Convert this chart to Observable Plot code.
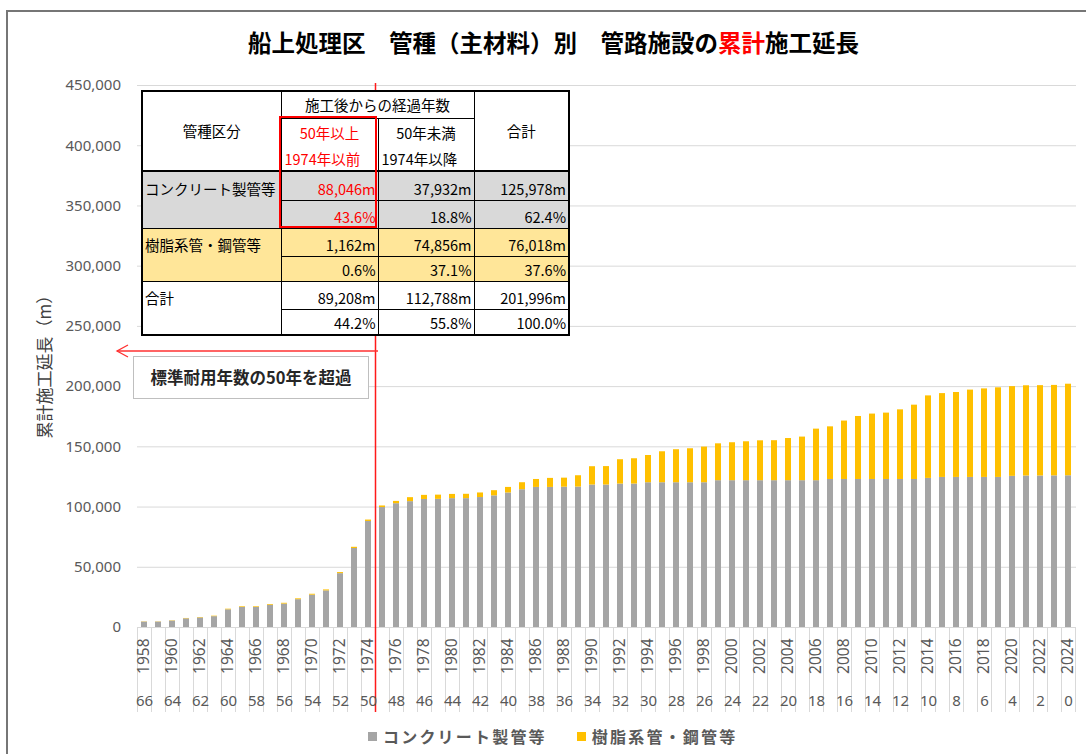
<!DOCTYPE html>
<html lang="ja">
<head>
<meta charset="utf-8">
<script src="https://cdn.jsdelivr.net/npm/d3@7"></script>
<script src="https://cdn.jsdelivr.net/npm/@observablehq/plot@0.6"></script>
<style>
html,body{margin:0;padding:0;background:#fff;}
#wrap{position:relative;width:1086px;height:754px;overflow:hidden;background:#fff;font-family:"Noto Sans CJK JP","Noto Sans",sans-serif;}
#wrap svg.plot{position:absolute;left:0;top:0;}
#frameL{position:absolute;left:6px;top:10px;width:2px;height:744px;background:#767676;}
#frameT{position:absolute;left:6px;top:10px;width:1080px;height:2px;background:#767676;}
#title{position:absolute;left:0;width:1107px;top:26px;text-align:center;font-size:23.5px;font-weight:700;color:#000;line-height:32px;white-space:nowrap;}
#title .red{color:#ff0000;}
#tbl{position:absolute;left:141px;top:90px;width:427px;border-collapse:collapse;table-layout:fixed;background:#fff;font-size:14.5px;color:#000;border:2px solid #000;}
#tbl td{padding:0 3px;border:1px solid #000;white-space:nowrap;overflow:hidden;line-height:20px;}
#tbl td.c{text-align:center;vertical-align:middle;}
#tbl td.l{text-align:left;vertical-align:bottom;padding-bottom:1px;}
#tbl td.r{text-align:right;vertical-align:bottom;padding-bottom:1px;padding-right:2px;}
#tbl td.lab{text-align:left;vertical-align:bottom;padding-bottom:1px;padding-left:2px;}
#tbl .red{color:#ff0000;}
#tbl .nb{border-bottom:none;}
#tbl .nt{border-top:none;}
#tbl .dot{border-bottom:1px dotted #000;}
#tbl .hb{border-bottom:2px solid #000;}
#tbl tr.g td{background:#d9d9d9;}
#tbl tr.y td{background:#ffe699;}
#redbox{position:absolute;left:279px;top:116px;width:98px;height:112px;box-sizing:border-box;border:2px solid #ff0000;}
#note{position:absolute;left:133px;top:356px;width:236px;height:43px;box-sizing:border-box;border:1px solid #bfbfbf;background:#fff;text-align:center;line-height:41px;font-size:16.5px;font-weight:700;color:#262626;white-space:nowrap;}
#arrow{position:absolute;left:110px;top:340px;}
#legend{position:absolute;left:368px;top:724px;display:flex;align-items:center;font-size:16px;font-weight:700;color:#595959;letter-spacing:2.2px;white-space:nowrap;}
#legend .sw{display:inline-block;width:9px;height:9px;margin-right:6px;}
#legend .item{display:flex;align-items:center;margin-right:30px;}
</style>
</head>
<body>
<div id="wrap"></div>
<script>
// ---- data ----
const years = [1958,1959,1960,1961,1962,1963,1964,1965,1966,1967,1968,1969,1970,1971,1972,1973,1974,
  1975,1976,1977,1978,1979,1980,1981,1982,1983,1984,1985,1986,1987,1988,1989,1990,1991,1992,1993,1994,
  1995,1996,1997,1998,1999,2000,2001,2002,2003,2004,2005,2006,2007,2008,2009,2010,2011,2012,2013,2014,
  2015,2016,2017,2018,2019,2020,2021,2022,2023,2024];
// cumulative length (m), concrete pipes etc.
const concrete = [4500,4500,5350,7200,7950,9000,14700,16650,16650,18500,19450,23100,26850,30400,44700,65600,88046,
  99600,102800,104500,106300,106400,107000,107000,107900,109300,111700,114400,116300,116300,116500,116600,118300,118300,119100,119100,120200,
  120200,120200,120200,120200,121900,121900,121900,121900,121900,121900,121900,121900,122900,122900,122900,122900,122900,122900,122900,123800,
  124600,124600,124600,124600,124600,125500,125800,125800,125900,125978];
// cumulative length (m), resin / steel pipes etc.
const resin = [200,200,250,300,350,400,500,550,550,600,650,700,750,800,900,1000,1162,
  1300,1900,3300,3400,3500,3500,3600,3800,4300,4600,5800,6600,7500,7500,9400,15200,15300,20200,21000,22600,
  25700,27400,28200,29600,30600,31500,32300,33100,33200,35000,36200,42800,43700,48500,52300,54300,55100,57800,61700,68500,
  69600,70500,72500,73500,74400,74500,74900,75000,75100,76018];
const seriesNames = ["コンクリート製管等", "樹脂系管・鋼管等"];
const seriesColors = ["#a5a5a5", "#ffc000"];
const yTicks = [0,50000,100000,150000,200000,250000,300000,350000,400000,450000];
const yearTicks = [1958,1960,1962,1964,1966,1968,1970,1972,1974,1976,1978,1980,1982,1984,1986,1988,1990,
  1992,1994,1996,1998,2000,2002,2004,2006,2008,2010,2012,2014,2016,2018,2020,2022,2024];
const ageTicks = [66,64,62,60,58,56,54,52,50,48,46,44,42,40,38,36,34,32,30,28,26,24,22,20,18,16,14,12,10,8,6,4,2,0];
const cutoffYear = 1974;
const titleParts = ["船上処理区　管種（主材料）別　管路施設の", "累計", "施工延長"];
const yLabel = "累計施工延長（m）";
const noteText = "標準耐用年数の50年を超過";
// table
const tableRowLabels = ["コンクリート製管等", "樹脂系管・鋼管等", "合計"];
const lenOver50 = [88046, 1162, 89208];
const lenUnder50 = [37932, 74856, 112788];
const lenTotal = [125978, 76018, 201996];
const pctOver50 = [43.6, 0.6, 44.2];
const pctUnder50 = [18.8, 37.1, 55.8];
const pctTotal = [62.4, 37.6, 100.0];

// ---- build ----
const rows = [];
years.forEach((yr, i) => {
  rows.push({year: yr, type: seriesNames[0], value: concrete[i]});
  rows.push({year: yr, type: seriesNames[1], value: resin[i]});
});
const ageByYear = new Map(yearTicks.map((y, i) => [y, ageTicks[i]]));
const fmt = d3.format(",");

const chart = Plot.plot({
  width: 1086, height: 754,
  marginLeft: 137, marginRight: 10, marginTop: 85, marginBottom: 127,
  style: {fontFamily: '"Noto Sans", sans-serif', fontSize: "15px", background: "transparent", color: "#595959", overflow: "visible"},
  x: {type: "band", domain: years, paddingInner: 0.57, paddingOuter: 0.285, axis: null},
  y: {domain: [0, 450000], axis: null},
  color: {domain: seriesNames, range: seriesColors},
  marks: [
    Plot.gridY(yTicks, {stroke: "#d9d9d9", strokeOpacity: 1, strokeWidth: 1}),
    Plot.ruleX(years, {dx: 7, insetTop: 542, insetBottom: -85, stroke: "#d9d9d9"}),
    Plot.ruleX([years[0]], {dx: -7, insetTop: 542, insetBottom: -85, stroke: "#d9d9d9"}),
    Plot.barY(rows, {x: "year", y: "value", fill: "type"}),
    Plot.ruleX([cutoffYear], {dx: 7, insetTop: -2, insetBottom: -85, stroke: "#ff1a1a", strokeWidth: 1.5}),
    Plot.axisY(yTicks, {tickSize: 0, tickPadding: 16.5, tickFormat: fmt, fill: "#595959", fontSize: 15, label: null}),
    Plot.axisX(yearTicks, {tickSize: 0, tickPadding: 11, tickRotate: -90, tickFormat: d => String(d), fill: "#595959", fontSize: 15.5, label: null}),
    Plot.axisX(yearTicks, {tickSize: 0, tickPadding: 68, tickFormat: d => String(ageByYear.get(d)), fill: "#595959", fontSize: 15, label: null}),
    Plot.text([yLabel], {frameAnchor: "left", textAnchor: "middle", dx: -92, dy: 6, rotate: -90, fontSize: 17, fill: "#404040", fontFamily: '"Noto Sans CJK JP", sans-serif'})
  ]
});

const wrap = document.getElementById("wrap");
chart.classList.add("plot");
wrap.appendChild(chart);

// frame lines
wrap.insertAdjacentHTML("beforeend", '<div id="frameL"></div><div id="frameT"></div>');

// title
wrap.insertAdjacentHTML("beforeend",
  `<div id="title">${titleParts[0]}<span class="red">${titleParts[1]}</span>${titleParts[2]}</div>`);

// annotation arrow + note
wrap.insertAdjacentHTML("beforeend",
  `<svg id="arrow" width="275" height="24"><g stroke="#ff3030" stroke-width="1.3" fill="none">
   <line x1="7" y1="11" x2="268" y2="11"/><polyline points="18,5 7,11 18,17"/></g></svg>
   <div id="note">${noteText}</div>`);

// table
const pct = v => v.toFixed(1) + "%";
const m = v => fmt(v) + "m";
let html = `<table id="tbl"><colgroup><col style="width:139px"><col style="width:97px"><col style="width:96px"><col style="width:95px"></colgroup>
<tr style="height:27px"><td rowspan="3" class="c hb">管種区分</td><td colspan="2" class="c">施工後からの経過年数</td><td rowspan="3" class="c hb">合計</td></tr>
<tr style="height:29px"><td class="c red nb">50年以上</td><td class="c nb">50年未満</td></tr>
<tr style="height:24px"><td class="l red nt hb">1974年以前</td><td class="l nt hb">1974年以降</td></tr>`;
const cls = ["g", "y", ""];
const hts = [[29, 28], [28, 25], [28, 26]];
tableRowLabels.forEach((lab, i) => {
  const rc = i === 0 ? " red" : "";
  html += `<tr class="${cls[i]}" style="height:${hts[i][0]}px"><td class="lab nb">${lab}</td><td class="r dot${rc}">${m(lenOver50[i])}</td><td class="r dot">${m(lenUnder50[i])}</td><td class="r dot">${m(lenTotal[i])}</td></tr>`;
  html += `<tr class="${cls[i]}" style="height:${hts[i][1]}px"><td class="lab nt"></td><td class="r${rc}">${pct(pctOver50[i])}</td><td class="r">${pct(pctUnder50[i])}</td><td class="r">${pct(pctTotal[i])}</td></tr>`;
});
html += `</table><div id="redbox"></div>`;
wrap.insertAdjacentHTML("beforeend", html);

// legend
wrap.insertAdjacentHTML("beforeend",
  `<div id="legend">${seriesNames.map((n, i) => `<span class="item"><span class="sw" style="background:${seriesColors[i]}"></span>${n}</span>`).join("")}</div>`);
</script>
</body>
</html>
